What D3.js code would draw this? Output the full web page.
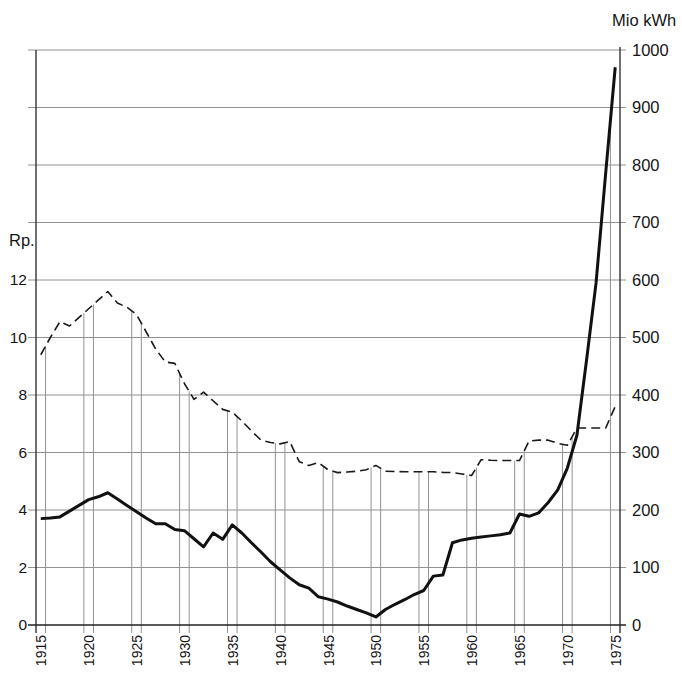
<!DOCTYPE html>
<html><head><meta charset="utf-8">
<script src="https://cdn.jsdelivr.net/npm/d3@7"></script>
<style>body{margin:0;background:#fff} svg{display:block} text{font-family:"Liberation Sans",Arial,sans-serif;fill:#151515}</style>
</head><body>
<script>
const years = d3.range(1915, 1976);
const priceRp = [9.4,10.0,10.55,10.4,10.7,11.0,11.3,11.6,11.2,11.05,
  10.8,10.2,9.6,9.15,9.1,8.4,7.85,8.1,7.8,7.5,
  7.4,7.1,6.75,6.43,6.35,6.3,6.38,5.68,5.55,5.65,
  5.4,5.3,5.32,5.35,5.4,5.55,5.35,5.34,5.33,5.33,
  5.33,5.33,5.31,5.3,5.25,5.2,5.75,5.73,5.72,5.72,
  5.72,6.4,6.43,6.43,6.32,6.25,6.85,6.85,6.85,6.85,7.6];
const energyMioKWh = [185,186,188,198,208,218,223,230,219,208,
  197,186,176,176,166,164,150,136,160,149,
  174,160,143,127,110,96,82,70,64,49,
  45,40,33,27,21,14,27,36,44,53,
  60,85,87,143,148,151,153,155,157,160,
  193,189,195,213,235,273,330,460,595,785,970];
const leftTicks = [0,2,4,6,8,10,12];
const rightTicks = [0,100,200,300,400,500,600,700,800,900,1000];
const yearLabels = [1915,1920,1925,1930,1935,1940,1945,1950,1955,1960,1965,1970,1975];

const W = 682, H = 680;
const svg = d3.select("body").append("svg").attr("width", W).attr("height", H);
const x = d3.scaleLinear().domain([1915, 1976]).range([36, 620]);
const yR = d3.scaleLinear().domain([0, 1000]).range([625, 50]);
const yL = d3.scaleLinear().domain([0, 20]).range([625, 50]);

const dashPts = years.map((yr, i) => [x(yr + 0.5), yL(priceRp[i])]);
const solidPts = years.map((yr, i) => [x(yr + 0.5), yR(energyMioKWh[i])]);

// horizontal grid
svg.append("g").selectAll("line").data(rightTicks.filter(d => d > 0)).join("line")
  .attr("x1", 28).attr("x2", 626)
  .attr("y1", d => yR(d)).attr("y2", d => yR(d))
  .attr("stroke", "#929292").attr("stroke-width", 1);

// vertical year lines, up to the upper curve
function interp(pts, px) {
  for (let i = 0; i < pts.length - 1; i++) {
    const a = pts[i], b = pts[i + 1];
    if (px >= a[0] && px <= b[0]) return a[1] + (b[1] - a[1]) * (px - a[0]) / (b[0] - a[0]);
  }
  if (px < pts[0][0]) return pts[0][1];
  return pts[pts.length - 1][1];
}
const bounds = [];
yearLabels.forEach(y => { bounds.push(y); bounds.push(y + 1); });
svg.append("g").selectAll("line").data(bounds.filter(b => b > 1915 && b < 1976)).join("line")
  .attr("x1", d => x(d)).attr("x2", d => x(d))
  .attr("y1", 633)
  .attr("y2", d => Math.min(interp(dashPts, x(d)), interp(solidPts, x(d))))
  .attr("stroke", "#929292").attr("stroke-width", 1);

// axes lines
svg.append("line").attr("x1", 28).attr("x2", 626).attr("y1", yR(0)).attr("y2", yR(0)).attr("stroke", "#222").attr("stroke-width", 1.3);
svg.append("line").attr("x1", x(1915)).attr("x2", x(1915)).attr("y1", 633).attr("y2", yR(1000)).attr("stroke", "#222").attr("stroke-width", 1.3);
svg.append("line").attr("x1", x(1976)).attr("x2", x(1976)).attr("y1", 633).attr("y2", yR(1000) - 3).attr("stroke", "#222").attr("stroke-width", 1.3);

// left axis labels
const gl = svg.append("g").attr("transform", `translate(${x(1915)},0)`)
  .call(d3.axisLeft(yL).tickValues(leftTicks).tickFormat(d3.format("d")).tickSize(0).tickPadding(9));
gl.select(".domain").remove();
gl.selectAll("text").attr("font-size", 15.5).attr("font-family", null);

// right axis labels
const gr = svg.append("g").attr("transform", `translate(${x(1976)},0)`)
  .call(d3.axisRight(yR).tickValues(rightTicks).tickFormat(d3.format("d")).tickSize(0).tickPadding(12));
gr.select(".domain").remove();
gr.selectAll("text").attr("font-size", 16.5).attr("font-family", null);

// bottom year labels
const gb = svg.append("g").attr("transform", `translate(0,${yR(0)})`)
  .call(d3.axisBottom(x).tickValues(yearLabels.map(y => y + 0.5)).tickFormat(d => String(d - 0.5)).tickSize(0));
gb.select(".domain").remove();
gb.selectAll("text").attr("font-size", 14).attr("font-family", null)
  .attr("transform", "rotate(-90)").attr("text-anchor", "end")
  .attr("x", -10).attr("y", 0).attr("dy", "0.36em");

// series
svg.append("path").datum(dashPts)
  .attr("d", d3.line()).attr("fill", "none").attr("stroke", "#1a1a1a")
  .attr("stroke-width", 1.6).attr("stroke-dasharray", "9,5").attr("stroke-linejoin", "round");
svg.append("path").datum(solidPts)
  .attr("d", d3.line()).attr("fill", "none").attr("stroke", "#111")
  .attr("stroke-width", 3).attr("stroke-linejoin", "round");

// unit labels
svg.append("text").attr("x", 612).attr("y", 26).attr("font-size", 16.5).text("Mio kWh");
svg.append("text").attr("x", 9).attr("y", 246).attr("font-size", 16.5).text("Rp.");
</script>
</body></html>
